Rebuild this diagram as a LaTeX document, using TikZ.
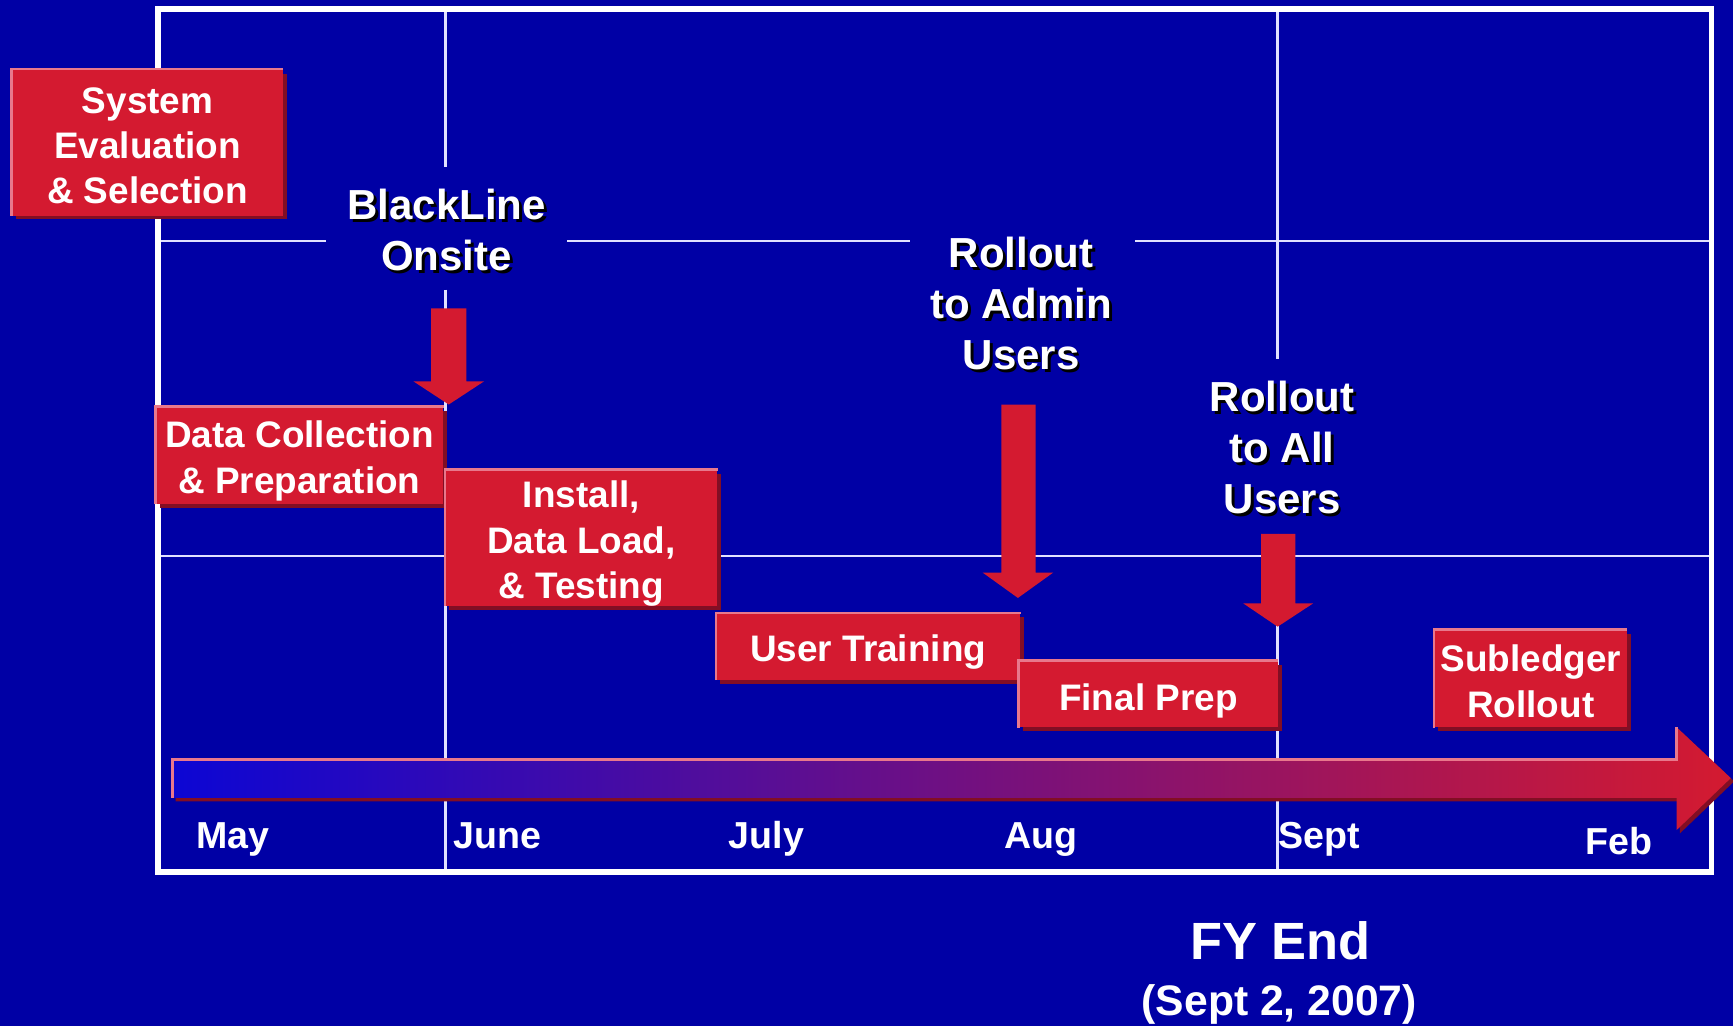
\documentclass[tikz,border=0pt]{standalone}
\usepackage{fontspec}
\setmainfont{Liberation Sans}
\usetikzlibrary{shadows,calc}
\definecolor{bg}{RGB}{0,0,165}
\definecolor{boxred}{RGB}{212,26,48}
\definecolor{shadowred}{RGB}{130,14,36}
\definecolor{hlpink}{RGB}{232,120,140}
\definecolor{gridc}{RGB}{225,225,255}
\definecolor{tlblue}{RGB}{12,6,212}
\definecolor{tlmid}{RGB}{150,20,155}
\begin{document}
\begin{tikzpicture}[x=0.5bp,y=-0.5bp,
  box/.style={fill=boxred, inner sep=0pt,
     drop shadow={shadow xshift=1.75bp, shadow yshift=-1.75bp, fill=shadowred, opacity=1}},
  boxtext/.style={text=white, inner sep=0pt, align=center,
     font=\fontsize{16.7bp}{20.5bp}\selectfont\bfseries},
  hl/.style={draw=hlpink, line width=1.1bp},
  lbl/.style={text=white, align=center, inner sep=0pt, font=\fontsize{19bp}{23bp}\selectfont\bfseries},
  lblsh/.style={lbl, text=black},
  month/.style={text=white, inner sep=0pt, anchor=base, font=\fontsize{17bp}{20bp}\selectfont\bfseries},
  gridline/.style={draw=gridc, line width=1.3bp},
  frameline/.style={draw=white, line width=2.6bp},
  blockarrow/.style={fill=boxred},
]
\fill[bg] (0,0) rectangle (1568,928);
\useasboundingbox (0,0) rectangle (1568,928);

% grid
\draw[gridline] (403,7) -- (403,151);
\draw[gridline] (403,262) -- (403,789);
\draw[gridline] (1156,7) -- (1156,325);
\draw[gridline] (1156,483) -- (1156,789);
\draw[gridline] (142,218) -- (295,218);
\draw[gridline] (513,218) -- (823,218);
\draw[gridline] (1027,218) -- (1548,218);
\draw[gridline] (142,503) -- (1548,503);
\draw[frameline] (143,8) rectangle (1548.5,789);

% timeline arrow
\fill[shadowred]
  (159,690) -- (1520,690) -- (1520,661) -- (1569,707) -- (1520,754) -- (1520,725) -- (159,725) -- cycle;
\shade[left color=tlblue, middle color=tlmid, right color=boxred]
  (156,687) -- (1517,687) -- (1517,658) -- (1566,704) -- (1517,751) -- (1517,722) -- (156,722) -- cycle;
\draw[hlpink, line width=1.1bp] (156,722) -- (156,687) -- (1517,687) -- (1517,658);

% block arrows
\fill[blockarrow] (390,279) -- (422,279) -- (422,345) -- (438,345) -- (406,366) -- (374,345) -- (390,345) -- cycle;
\fill[blockarrow] (906,366) -- (937,366) -- (937,518) -- (953,518) -- (921,541) -- (889,518) -- (906,518) -- cycle;
\fill[blockarrow] (1141,483) -- (1172,483) -- (1172,546) -- (1188,546) -- (1156,567) -- (1125,546) -- (1141,546) -- cycle;

% boxes
\node[box, minimum width=122.5bp, minimum height=66bp] (sys) at (133.5,129) {};
\draw[hl] (sys.south west) -- (sys.north west) -- (sys.north east);
\node[boxtext] (syst) at ($(sys.center)+(0,3)$) {System\\Evaluation\\\& Selection};

\node[box, minimum width=130bp, minimum height=44bp] (dc) at (271,412) {};
\draw[hl] (dc.south west) -- (dc.north west) -- (dc.north east);
\node[boxtext] (dct) at ($(dc.center)+(0,5)$) {Data Collection\\\& Preparation};

\node[box, minimum width=123bp, minimum height=61.5bp] (inst) at (526,486.5) {};
\draw[hl] (inst.south west) -- (inst.north west) -- (inst.north east);
\node[boxtext] (instt) at ($(inst.center)+(0,5.5)$) {Install,\\Data Load,\\\& Testing};

\node[box, minimum width=137.5bp, minimum height=30bp] (ut) at (785.5,585) {};
\draw[hl] (ut.south west) -- (ut.north west) -- (ut.north east);
\node[boxtext] (utt) at ($(ut.center)+(0,5)$) {User Training};

\node[box, minimum width=117bp, minimum height=30bp] (fp) at (1039,628) {};
\draw[hl] (fp.south west) -- (fp.north west) -- (fp.north east);
\node[boxtext] (fpt) at ($(fp.center)+(0,6)$) {Final Prep};

\node[box, minimum width=87bp, minimum height=44bp] (sub) at (1385,614) {};
\draw[hl] (sub.south west) -- (sub.north west) -- (sub.north east);
\node[boxtext] (subt) at ($(sub.center)+(0,2.5)$) {Subledger\\Rollout};

% labels
\node[lblsh] at (406.5,210.5) {BlackLine\\Onsite};
\node[lbl] (bl) at (404,208) {BlackLine\\Onsite};
\node[lblsh] at (926.5,277) {Rollout\\to Admin\\Users};
\node[lbl] (admin) at (924,274.5) {Rollout\\to Admin\\Users};
\node[lblsh] at (1162.5,407.5) {Rollout\\to All\\Users};
\node[lbl] (all) at (1160,405) {Rollout\\to All\\Users};

% months
\node[month] (may) at (211,768) {May};
\node[month] (jun) at (450,768) {June};
\node[month] (jul) at (693.5,768) {July};
\node[month] (aug) at (942,768) {Aug};
\node[month] (sep) at (1193.5,768) {Sept};
\node[month] (feb) at (1464.5,773) {Feb};

% FY end
\node[text=white, inner sep=0pt, anchor=base, font=\fontsize{23.7bp}{28bp}\selectfont\bfseries] (fy) at (1158.5,868) {FY End};
\node[text=white, inner sep=0pt, anchor=base, font=\fontsize{19.3bp}{23bp}\selectfont\bfseries] (fyd) at (1157.5,919) {(Sept 2, 2007)};
\end{tikzpicture}
\end{document}
